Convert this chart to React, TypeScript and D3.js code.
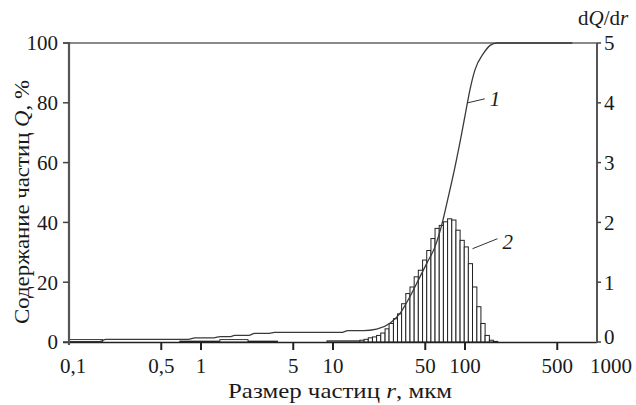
import * as d3 from "d3";

// ---------------------------------------------------------------------------
// Data
// ---------------------------------------------------------------------------

// x-axis (particle size r, µm, log scale)
const xTicks = [0.1, 0.5, 1, 5, 10, 50, 100, 500, 1000];
const xTickLabels = ["0,1", "0,5", "1", "5", "10", "50", "100", "500", "1000"];

// left axis: cumulative content Q, %
const qTicks = [0, 20, 40, 60, 80, 100];
// right axis: dQ/dr
const dTicks = [0, 1, 2, 3, 4, 5];

// curve 1: cumulative content Q (%) vs size r (µm)
const curveR = [
  0.1, 0.17, 0.19, 0.8, 0.9, 1.25, 1.4, 1.65, 1.8, 2.3, 2.55, 3.3, 3.6, 11.5,
  13, 17, 21.4, 27, 32.2, 38.3, 44.3, 51.3, 59.3, 66.6, 74.8, 84, 94.4, 103,
  109, 119, 138, 155, 174, 650,
];
const curveQ = [
  0.1, 0.1, 0.9, 0.9, 1.4, 1.4, 1.8, 1.8, 2.2, 2.2, 2.9, 2.9, 3.2, 3.2, 3.8,
  3.8, 4.3, 6.3, 9.6, 15.2, 20.7, 26.3, 31.9, 39.1, 48.6, 58.6, 69.8, 78.7,
  84.3, 91, 96.5, 99.2, 100, 100,
];

// curve 2: histogram dQ/dr, bin edges (µm) and bar heights
const binEdges = [
  16.0, 17.2, 18.5, 19.9, 21.4, 23.0, 24.8, 26.6, 28.7, 30.8, 33.1, 35.6, 38.3,
  41.2, 44.3, 47.7, 51.3, 55.2, 59.3, 63.8, 68.6, 73.8, 79.4, 85.4, 91.8, 98.7,
  106, 114, 123, 132, 142, 153, 164, 177,
];
const binValues = [
  0.03, 0.045, 0.07, 0.085, 0.11, 0.15, 0.22, 0.31, 0.39, 0.47, 0.64, 0.81,
  0.92, 1.09, 1.2, 1.37, 1.53, 1.73, 1.9, 1.95, 2.01, 2.06, 2.04, 1.87, 1.7,
  1.59, 1.31, 0.92, 0.59, 0.31, 0.11, 0.03, 0.01,
];

// near-zero runs of the histogram at small sizes
const traceFrom = [0.1, 0.69, 1.39, 9.0];
const traceTo = [0.18, 3.8, 2.27, 16.0];
const traceValue = [0.04, 0.015, 0.04, 0.02];

// ---------------------------------------------------------------------------

const W = 636;
const H = 405;
const FONT = '"Times New Roman", "Liberation Serif", "DejaVu Serif", Times, serif';

export default function App() {
  const x = d3.scaleLog().domain([0.1, 1000]).range([69, 597]);
  const yQ = d3.scaleLinear().domain([0, 100]).range([342, 43]);
  const yD = d3.scaleLinear().domain([0, 5]).range([342, 43]);

  const line = d3
    .line<number>()
    .x((_d, i) => x(curveR[i]))
    .y((d) => yQ(d))
    .curve(d3.curveMonotoneX);

  const bars = binValues.map((v, i) => ({
    x0: x(binEdges[i]),
    x1: x(binEdges[i + 1]),
    y: yD(v),
  }));

  const traces = traceValue.map((v, i) => ({
    x0: x(traceFrom[i]),
    x1: x(traceTo[i]),
    y: yD(v),
  }));

  const [xl, xr] = x.range();
  const y0 = yQ(0);
  const yTop = yQ(100);

  // leader anchors
  const a1 = { x: x(105), y: yQ(80) };
  const a2 = { x: x(114), y: yD(1.56) };

  const txt = { fontFamily: FONT };

  return (
    <svg
      width={W}
      height={H}
      style={{ position: "absolute", left: 0, top: 0, background: "#fff" }}
      fill="#1a1a1a"
    >
      {/* top border */}
      <line x1={xl - 6} x2={xr} y1={yTop} y2={yTop} stroke="#8a8a8a" strokeWidth={2} />

      {/* histogram trace runs */}
      {traces.map((t, i) => (
        <rect
          key={"t" + i}
          x={t.x0}
          y={t.y}
          width={t.x1 - t.x0}
          height={y0 - t.y}
          fill="#fff"
          stroke="#222"
          strokeWidth={0.9}
        />
      ))}

      {/* histogram bars */}
      {bars.map((b, i) => (
        <rect
          key={"b" + i}
          x={b.x0}
          y={b.y}
          width={b.x1 - b.x0}
          height={y0 - b.y}
          fill="#fff"
          stroke="#222"
          strokeWidth={1}
        />
      ))}

      {/* curve 1 */}
      <path d={line(curveQ) ?? ""} fill="none" stroke="#3a3a3a" strokeWidth={1.3} />

      {/* x axis */}
      <line x1={xl - 6} x2={xr} y1={y0 + 0.5} y2={y0 + 0.5} stroke="#222" strokeWidth={1.6} />
      {xTicks.map((t, i) => (
        <g key={"x" + t}>
          {i > 0 && i < xTicks.length - 1 && (
            <line x1={x(t)} x2={x(t)} y1={y0} y2={y0 + 8} stroke="#222" strokeWidth={2} />
          )}
          <text
            style={txt}
            x={x(t) + (i === 0 ? 4 : i === xTicks.length - 1 ? 14 : 0)}
            y={373}
            fontSize={21}
            textAnchor="middle"
          >
            {xTickLabels[i]}
          </text>
        </g>
      ))}

      {/* left axis */}
      <line x1={xl} x2={xl} y1={yTop - 1} y2={y0 + 3} stroke="#555" strokeWidth={2.2} />
      {qTicks.map((t) => (
        <g key={"q" + t}>
          <line x1={xl - 6} x2={xl} y1={yQ(t)} y2={yQ(t)} stroke="#444" strokeWidth={1.5} />
          <text style={txt} x={58} y={yQ(t)} dy="0.35em" fontSize={21} textAnchor="end">
            {t}
          </text>
        </g>
      ))}

      {/* right axis */}
      <line x1={xr} x2={xr} y1={yTop} y2={y0 + 1} stroke="#555" strokeWidth={2} />
      {dTicks.map((t) => (
        <g key={"d" + t}>
          <line x1={xr} x2={xr + 4} y1={yD(t)} y2={yD(t)} stroke="#444" strokeWidth={1.5} />
          <text
            style={txt}
            x={604}
            y={yD(t) - (t === 0 ? 5 : 0)}
            dy="0.35em"
            fontSize={21}
            textAnchor="start"
          >
            {t}
          </text>
        </g>
      ))}

      {/* axis titles */}
      <text
        style={txt}
        x={340}
        y={398}
        fontSize={21}
        textAnchor="middle"
        textLength={224}
        lengthAdjust="spacingAndGlyphs"
      >
        Размер частиц <tspan fontStyle="italic">r</tspan>, мкм
      </text>
      <text
        style={txt}
        transform="translate(29,202) rotate(-90)"
        fontSize={21}
        textAnchor="middle"
        textLength={244}
        lengthAdjust="spacingAndGlyphs"
      >
        Содержание частиц <tspan fontStyle="italic">Q</tspan>, %
      </text>
      <text style={txt} x={578} y={25} fontSize={21}>
        d<tspan fontStyle="italic">Q</tspan>/d<tspan fontStyle="italic">r</tspan>
      </text>

      {/* curve labels */}
      <line x1={a1.x} y1={a1.y} x2={a1.x + 17} y2={a1.y - 4} stroke="#333" strokeWidth={1} />
      <text style={txt} x={a1.x + 22} y={a1.y + 3} fontSize={21} fontStyle="italic">
        1
      </text>
      <line x1={a2.x} y1={a2.y} x2={a2.x + 25} y2={a2.y - 10} stroke="#333" strokeWidth={1} />
      <text style={txt} x={a2.x + 30} y={a2.y} fontSize={21} fontStyle="italic">
        2
      </text>
    </svg>
  );
}
